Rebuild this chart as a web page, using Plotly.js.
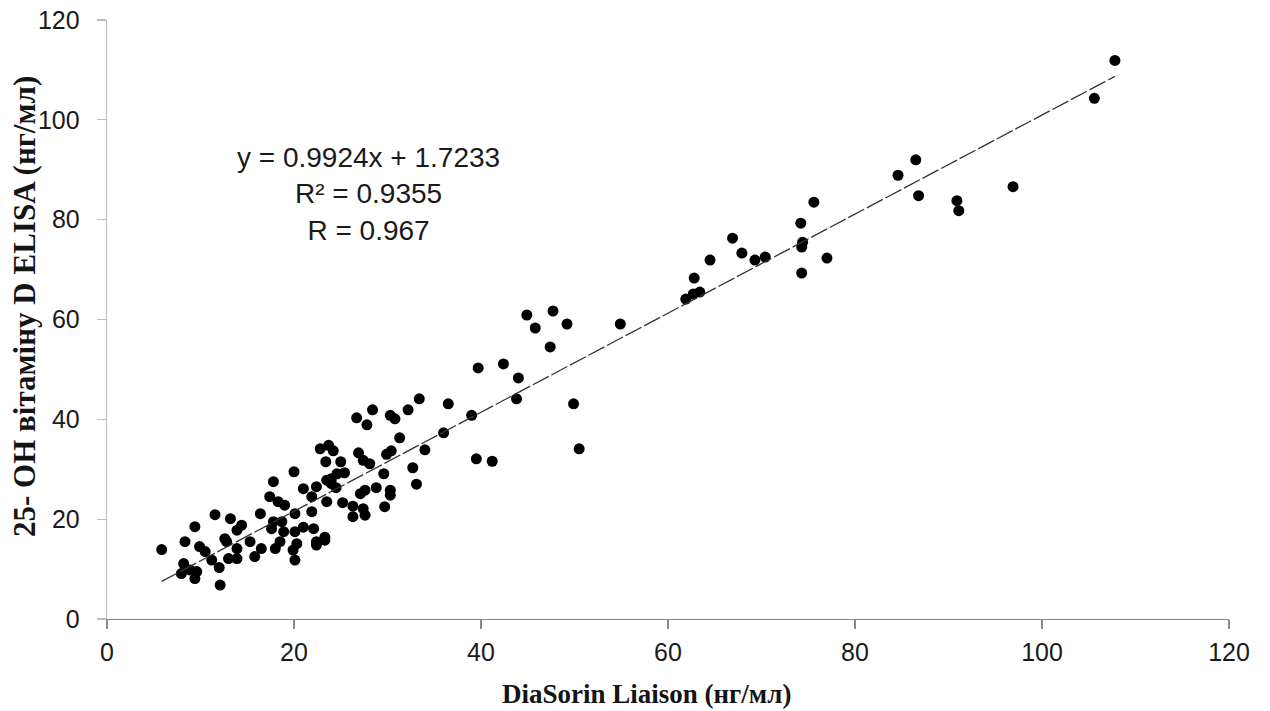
<!DOCTYPE html>
<html>
<head>
<meta charset="utf-8">
<script src="https://cdn.plot.ly/plotly-3.0.1.min.js"></script>
<style>html,body{margin:0;padding:0;background:#fff;}#chart{width:1270px;height:711px;}</style>
</head>
<body>
<div id="chart"></div>
<script>
// DiaSorin Liaison (x) vs 25-OH vitamin D ELISA (y), ng/ml
const liaison = [
  5.85, 8.34, 9.4, 11.55, 13.2, 13.9, 14.4, 9.9, 10.5, 11.2, 12.0, 12.1, 8.2, 7.95, 8.9, 9.6, 9.4,
  12.6, 12.8, 13.0, 13.9, 13.9, 15.3, 15.8, 16.5, 16.4, 17.4, 17.8, 18.3, 19.0, 17.8, 17.6, 18.7,
  18.9, 18.5, 18.0, 20.1, 20.1, 20.3, 19.9, 20.1, 21.0, 21.9, 21.9, 22.1, 22.4, 23.3, 22.4, 23.5,
  24.0, 20.0, 21.0, 23.3, 22.4,
  33.4, 36.5, 32.2, 30.3, 30.8, 28.4, 26.7, 27.8, 31.3, 36.0, 34.0, 29.9, 30.4, 26.9, 27.4, 28.1,
  22.8, 23.7, 24.2, 23.4, 25.0, 25.4, 24.6, 24.0, 23.5, 24.5, 25.2, 27.1, 27.6, 28.8, 30.3, 30.3,
  29.6, 32.7, 33.1, 29.7, 26.3, 26.3, 27.4, 27.6,
  44.9, 47.7, 45.8, 49.2, 54.9, 47.4, 39.7, 42.4, 44.0, 43.8, 49.9, 50.5, 39.5, 41.2, 39.0,
  75.6, 74.2, 74.4, 74.3, 77.0, 74.3, 66.9, 67.9, 69.3, 70.4, 64.5, 62.8, 62.7, 63.4, 61.9,
  107.8, 105.6, 86.5, 84.6, 86.8, 90.9, 91.1, 96.9
];
const elisa = [
  13.9, 15.5, 18.5, 20.9, 20.1, 17.8, 18.8, 14.5, 13.5, 11.8, 10.3, 6.8, 11.1, 9.1, 9.8, 9.5, 8.1,
  16.1, 15.5, 12.1, 12.1, 14.1, 15.5, 12.5, 14.1, 21.1, 24.5, 27.5, 23.5, 22.8, 19.5, 18.1, 19.5,
  17.5, 15.5, 14.1, 21.1, 17.5, 15.1, 13.8, 11.8, 26.1, 24.5, 21.5, 18.1, 15.5, 15.8, 26.5, 23.5,
  27.1, 29.5, 18.4, 16.4, 14.8,
  44.1, 43.1, 41.9, 40.8, 40.1, 41.9, 40.3, 38.9, 36.3, 37.3, 33.9, 33.0, 33.7, 33.3, 31.8, 31.1,
  34.1, 34.8, 33.7, 31.5, 31.5, 29.3, 29.1, 28.1, 27.8, 26.3, 23.3, 25.1, 25.8, 26.3, 25.8, 24.8,
  29.1, 30.3, 27.0, 22.5, 22.6, 20.5, 22.1, 20.8,
  60.9, 61.7, 58.3, 59.1, 59.1, 54.5, 50.3, 51.1, 48.3, 44.1, 43.1, 34.1, 32.1, 31.6, 40.8,
  83.5, 79.3, 75.5, 74.5, 72.3, 69.3, 76.3, 73.3, 71.9, 72.5, 71.9, 68.3, 65.1, 65.5, 64.1,
  111.9, 104.3, 92.0, 88.9, 84.8, 83.8, 81.8, 86.6
];
// Regression shown on the chart
const slope = 0.9924;
const intercept = 1.7233;
const fitLabels = ["y = 0.9924x + 1.7233", "R² = 0.9355", "R = 0.967"];
const xTitle = "DiaSorin Liaison (нг/мл)";
const yTitle = "25- OH вітаміну D ELISA (нг/мл)";

const xMin = Math.min(...liaison), xMax = Math.max(...liaison);
const trendX = [xMin, xMax];
const trendY = trendX.map(v => slope * v + intercept);

const tickFont = {family: "Liberation Sans, Arial, sans-serif", size: 25, color: "#1a1a1a"};

const data = [
  {
    type: "scatter", mode: "markers", x: liaison, y: elisa,
    marker: {color: "#000", size: 11, line: {width: 0}},
    hoverinfo: "x+y", showlegend: false
  },
  {
    type: "scatter", mode: "lines", x: trendX, y: trendY,
    line: {color: "#333", width: 1.3, dash: "18px,3px"},
    hoverinfo: "skip", showlegend: false
  }
];

const layout = {
  width: 1270, height: 711,
  margin: {l: 107, r: 41, t: 20, b: 92, pad: 0},
  paper_bgcolor: "#fff", plot_bgcolor: "#fff",
  showlegend: false,
  xaxis: {
    range: [0, 120], tickvals: [0, 20, 40, 60, 80, 100, 120],
    showgrid: false, zeroline: false,
    showline: true, linecolor: "#8a8a8a", linewidth: 1.3,
    ticks: "outside", ticklen: 9, tickcolor: "#8a8a8a", tickwidth: 1.3,
    tickfont: tickFont, ticklabelstandoff: 2
  },
  yaxis: {
    range: [0, 120], tickvals: [0, 20, 40, 60, 80, 100, 120],
    showgrid: false, zeroline: false,
    showline: true, linecolor: "#bdbdbd", linewidth: 1.3,
    ticks: "outside", ticklen: 9, tickcolor: "#bdbdbd", tickwidth: 1.3,
    tickfont: tickFont, ticklabelstandoff: 12
  },
  annotations: [
    {
      xref: "x", yref: "y", x: 28.0, y: 85.2, xanchor: "center", yanchor: "middle",
      text: fitLabels.join("<br>"), showarrow: false, align: "center",
      font: {family: "Liberation Sans, Arial, sans-serif", size: 28, color: "#1a1a1a"}
    },
    {
      xref: "paper", yref: "paper", x: (646 - 107) / 1122, y: -(694 - 619) / 599,
      xanchor: "center", yanchor: "middle", showarrow: false,
      text: "<b>" + xTitle + "</b>",
      font: {family: "Liberation Serif, Times New Roman, serif", size: 27, color: "#141414"}
    },
    {
      xref: "paper", yref: "paper", x: -(107 - 24) / 1122, y: (619 - 307) / 599,
      xanchor: "center", yanchor: "middle", showarrow: false, textangle: -90,
      text: "<b>" + yTitle + "</b>",
      font: {family: "Liberation Serif, Times New Roman, serif", size: 31, color: "#141414"}
    }
  ]
};

Plotly.newPlot("chart", data, layout, {displayModeBar: false, staticPlot: true});
</script>
</body>
</html>
